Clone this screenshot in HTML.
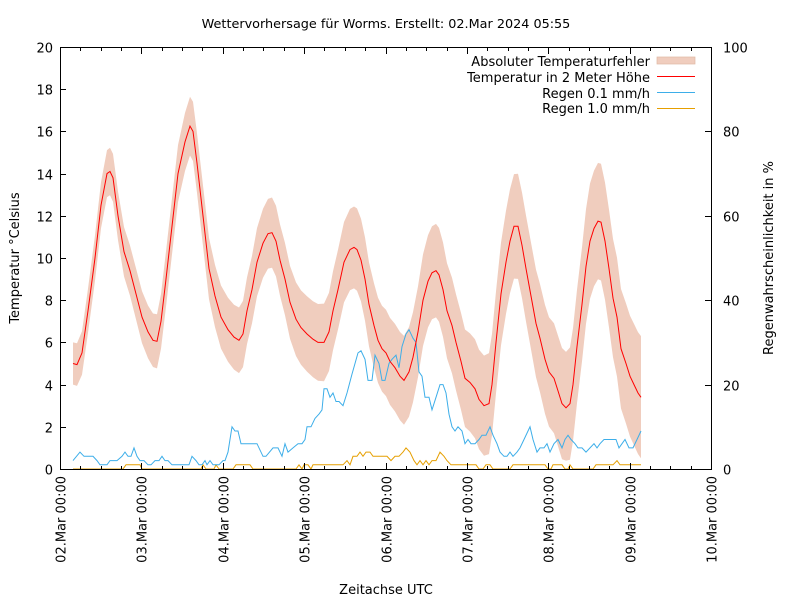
<!DOCTYPE html>
<html><head><meta charset="utf-8"><style>
body{margin:0;background:#fff}
svg text{font-family:"DejaVu Sans","Liberation Sans",sans-serif;font-size:13px;fill:#000}
</style></head><body>
<svg id="s" width="800" height="600" xmlns="http://www.w3.org/2000/svg">
<rect width="800" height="600" fill="#fff"/>
<g id="band"></g>
<g id="plots"></g>
<g id="axes" stroke="#000" stroke-width="1" fill="none"></g>
<g id="labels"></g>
<text x="386" y="28" text-anchor="middle" style="font-size:12.8px">Wettervorhersage für Worms. Erstellt: 02.Mar 2024 05:55</text>
<text x="386" y="594" text-anchor="middle">Zeitachse UTC</text>
<text transform="translate(19,258) rotate(-90)" text-anchor="middle">Temperatur °Celsius</text>
<text transform="translate(773,258) rotate(-90)" text-anchor="middle">Regenwahrscheinlichkeit in %</text>
<g text-anchor="end">
<text x="650" y="66">Absoluter Temperaturfehler</text>
<text x="650" y="82">Temperatur in 2 Meter Höhe</text>
<text x="650" y="98">Regen 0.1 mm/h</text>
<text x="650" y="113">Regen 1.0 mm/h</text>
</g>
<rect x="657" y="57" width="38" height="7" fill="#f0cdbe" stroke="#e0b8a4" stroke-width="0.7"/>
<line x1="657" y1="76.5" x2="695" y2="76.5" stroke="#f00"/>
<line x1="657" y1="92.5" x2="695" y2="92.5" stroke="#3daee9"/>
<line x1="657" y1="108.5" x2="695" y2="108.5" stroke="#e69f00"/>
</svg>
<script>
var NS="http://www.w3.org/2000/svg";
function el(p,t,a,txt){var e=document.createElementNS(NS,t);for(var k in a)e.setAttribute(k,a[k]);if(txt!==undefined)e.textContent=txt;document.getElementById(p).appendChild(e);return e;}
var X0=60,X1=711,Y0=469,Y1=47;
function yl(v){return Y0-v*(Y0-Y1)/20;}
var T=[73,5.0,77,4.95,82,5.5,88,7.5,95,10,101,12.5,107,14.0,110,14.1,113,13.8,118,12,124,10.3,130,9.4,136,8.3,142,7.2,148,6.5,153,6.1,157,6.05,161,7,166,9,172,11.5,178,14,185,15.5,190,16.25,193,16,197,14.5,203,12,209,9.5,215,8.2,221,7.2,228,6.6,234,6.25,239,6.1,243,6.4,247,7.5,252,8.5,257,9.8,263,10.7,268,11.15,272,11.2,276,10.8,280,9.9,285,9,290,7.9,296,7.1,301,6.7,307,6.4,313,6.15,318,6.0,324,6.0,329,6.5,333,7.5,338,8.5,344,9.8,350,10.4,354,10.5,357,10.4,361,9.9,365,9,369,7.8,374,6.8,378,6.1,382,5.7,386,5.5,390,5.1,395,4.8,400,4.4,404,4.2,409,4.6,413,5.3,418,6.5,423,8,428,8.9,432,9.3,436,9.4,439,9.2,443,8.5,447,7.5,452,6.8,456,6,461,5.1,465,4.3,470,4.1,475,3.8,479,3.3,484,3.0,489,3.1,492,4,496,6,501,8.3,506,9.8,510,10.8,514,11.5,518,11.5,522,10.6,526,9.5,531,8.2,536,6.9,540,6.2,545,5.2,549,4.6,554,4.3,558,3.7,562,3.1,566,2.9,570,3.1,573,4,577,5.8,582,7.8,586,9.6,590,10.8,594,11.4,598,11.75,601,11.7,605,10.8,609,9.5,613,8.1,617,7.2,621,5.7,626,5.0,630,4.4,634,4.0,638,3.6,641,3.4];
var R1=[73,0.4,80,0.8,84,0.6,93,0.6,97,0.4,100,0.2,107,0.2,110,0.4,117,0.4,122,0.6,125,0.8,128,0.6,131,0.6,134,1.0,137,0.6,140,0.4,144,0.4,148,0.2,151,0.2,155,0.4,159,0.4,162,0.6,165,0.4,168,0.4,172,0.2,189,0.2,192,0.6,196,0.4,199,0.2,202,0.2,205,0.4,207,0.2,210,0.4,213,0.2,219,0.2,223,0.4,225,0.4,228,0.8,232,2.0,235,1.8,238,1.8,241,1.2,257,1.2,263,0.6,266,0.6,273,1.0,278,1.0,282,0.6,285,1.2,288,0.8,293,1.0,298,1.2,302,1.2,305,1.4,307,2.0,311,2.0,315,2.4,319,2.6,322,2.8,324,3.8,327,3.8,330,3.4,333,3.6,336,3.2,339,3.2,343,3.0,347,3.6,352,4.5,355,5,358,5.5,361,5.6,365,5.2,368,4.2,372,4.2,375,5.4,379,5.0,382,4.2,385,4.2,389,5.0,392,5.2,396,5.4,399,4.8,402,5.8,406,6.4,409,6.6,413,6.2,416,6.0,419,4.6,422,4.4,425,3.4,429,3.4,432,2.8,436,3.4,440,4.0,443,4.0,446,3.6,449,2.6,452,2.0,455,1.8,458,2.0,462,1.8,465,1.2,468,1.4,471,1.2,475,1.2,479,1.4,482,1.6,486,1.6,490,2.0,493,1.6,497,1.2,500,0.8,504,0.6,507,0.6,510,0.8,513,0.6,517,0.8,520,1.0,524,1.4,530,2.0,533,1.4,537,0.8,540,1.0,544,1.0,547,1.2,550,0.8,554,1.2,558,1.4,562,1.0,565,1.4,568,1.6,571,1.4,575,1.2,578,1.0,582,1.0,586,0.8,590,1.0,594,1.2,597,1.0,600,1.2,604,1.4,616,1.4,619,1.0,622,1.2,625,1.4,629,1.0,633,1.0,637,1.4,641,1.8];
var R2=[73,0,123,0,126,0.2,140,0.2,142,0,201,0,203,0.2,206,0,214,0,216,0.2,219,0,233,0,236,0.2,250,0.2,253,0,296,0,299,0.2,302,0,304,0.2,308,0.2,311,0,313,0.2,343,0.2,347,0.4,350,0.2,353,0.6,357,0.6,360,0.8,363,0.6,366,0.8,370,0.8,373,0.6,387,0.6,391,0.4,395,0.6,399,0.6,403,0.8,406,1.0,410,0.8,414,0.4,417,0.2,420,0.4,423,0.2,426,0.4,429,0.2,432,0.4,436,0.4,440,0.8,444,0.6,447,0.4,451,0.2,470,0.2,476,0.2,479,0,483,0,486,0.2,490,0.2,493,0,510,0,513,0.2,545,0.2,548,0,551,0,553,0.2,562,0.2,565,0,568,0,570,0.2,573,0,593,0,596,0.2,613,0.2,617,0.4,620,0.2,641,0.2];
function pts(a,f){var s=[];for(var i=0;i<a.length;i+=2)s.push(a[i]+","+f(a[i],a[i+1]).toFixed(1));return s.join(" ");}
function d(x){return 1.0+(x-73)/(641-73)*1.9;}
var up=[],lo=[];
for(var i=0;i<T.length;i+=2){up.push(T[i]+","+yl(T[i+1]+d(T[i])).toFixed(1));lo.unshift(T[i]+","+yl(Math.max(0.4,T[i+1]-d(T[i]))).toFixed(1));}
el("band","polygon",{points:up.concat(lo).join(" "),fill:"#f0cdbe"});
el("plots","polyline",{points:pts(R2,function(x,v){return yl(v);}),fill:"none",stroke:"#e69f00","stroke-width":1});
el("plots","polyline",{points:pts(R1,function(x,v){return yl(v);}),fill:"none",stroke:"#3daee9","stroke-width":1});
el("plots","polyline",{points:pts(T,function(x,v){return yl(v);}),fill:"none",stroke:"#f00","stroke-width":1});
el("axes","rect",{x:X0+0.5,y:Y1+0.5,width:X1-X0,height:Y0-Y1});
var day=(X1-X0)/8;
for(var k=0;k<=32;k++){var x=Math.round(X0+k*day/4)+0.5,L=(k%4==0)?6:3;
 el("axes","line",{x1:x,y1:Y0,x2:x,y2:Y0-L});el("axes","line",{x1:x,y1:Y1+1,x2:x,y2:Y1+1+L});
 if(k%4==0){var n=2+k/4;var t=(n<10?"0":"")+n+".Mar 00:00";
  el("labels","text",{transform:"translate("+(x+5)+",476) rotate(-90)","text-anchor":"end"},t);}}
for(var v=0;v<=20;v+=2){var y=Math.round(yl(v))+0.5;el("axes","line",{x1:X0,y1:y,x2:X0+6,y2:y});
 el("labels","text",{x:53,y:y+5,"text-anchor":"end"},v);}
for(var p=0;p<=100;p+=20){var y=Math.round(Y0-p*(Y0-Y1)/100)+0.5;el("axes","line",{x1:X1,y1:y,x2:X1-6,y2:y});
 el("labels","text",{x:723,y:y+5},p);}
</script>
</body></html>
